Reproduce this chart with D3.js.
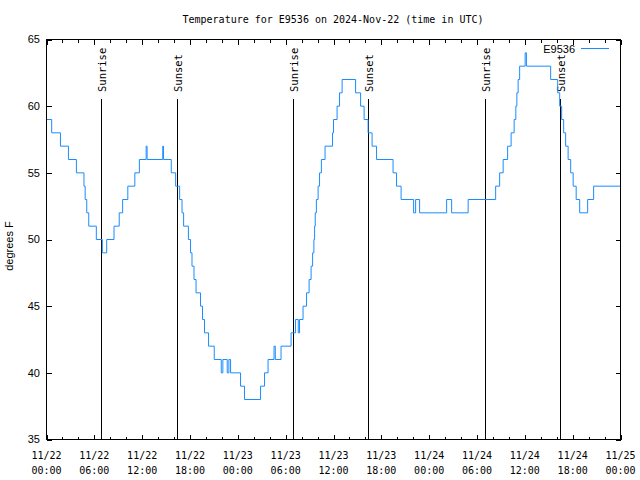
<!DOCTYPE html>
<html>
<head>
<meta charset="utf-8">
<script src="https://cdn.jsdelivr.net/npm/d3@7"></script>
<style>
  html, body { margin: 0; padding: 0; background: #fff; }
  svg { display: block; }
</style>
</head>
<body>
<svg id="chart" width="640" height="480"></svg>
<script>
// ---------- DATA ----------
const titleText = "Temperature for E9536 on 2024-Nov-22 (time in UTC)";
const seriesName = "E9536";
const yLabel = "degrees F";
// hours since 2024-11-22 00:00 UTC at which the reading changed, and the new reading (deg F)
const hours = [
  0.00, 0.65, 1.75, 2.75, 3.75, 4.70, 4.85, 5.05, 5.30, 6.25, 7.00, 7.55, 8.47, 9.12, 9.55,
  10.20, 11.08, 11.65, 12.50, 12.62, 14.58, 14.68, 15.65, 16.20, 16.70, 17.00, 17.20, 17.80,
  18.07, 18.25, 18.50, 18.76, 19.32, 19.57, 19.82, 20.33, 21.04, 21.92, 22.12, 22.67, 22.88,
  23.09, 24.34, 24.84, 26.85, 27.35, 27.79, 28.54, 28.70, 29.42, 30.68, 31.24, 31.58, 31.74,
  32.18, 32.62, 32.94, 33.19, 33.38, 33.54, 33.63, 33.71, 33.85, 34.07, 34.25, 34.48, 34.94,
  35.88, 36.00, 36.45, 36.76, 37.08, 38.77, 39.40, 39.84, 40.34, 40.84, 41.40, 43.47, 43.91,
  44.48, 46.05, 46.30, 46.80, 50.19, 50.82, 52.89, 56.34, 56.84, 57.28, 57.84, 58.28, 58.66,
  58.87, 59.00, 59.16, 59.35, 60.04, 60.20, 63.24, 64.12, 64.37, 64.62, 64.87, 65.12, 65.43,
  65.75, 66.06, 66.44, 66.88, 67.88, 68.63, 72.00
];
const temps = [
  59, 58, 57, 56, 55, 54, 53, 52, 51, 50, 49, 50, 51, 52, 53,
  54, 55, 56, 57, 56, 57, 56, 55, 54, 53, 52, 51, 50,
  49, 48, 47, 46, 45, 44, 43, 42, 41, 40, 41, 40, 41,
  40, 39, 38, 39, 40, 41, 42, 41, 42, 43, 44, 43, 44,
  45, 46, 47, 48, 49, 50, 51, 52, 53, 54, 55, 56, 57,
  58, 59, 60, 61, 62, 61, 60, 59, 58, 57, 56, 55, 54,
  53, 52, 53, 52, 53, 52, 53, 54, 55, 56, 57, 58, 59,
  60, 61, 62, 63, 64, 63, 62, 61, 60, 59, 58, 57, 56,
  55, 54, 53, 52, 53, 54, 54
];
const sunriseHours = [6.81, 30.90, 54.99];
const sunsetHours = [16.31, 40.31, 64.40];
const yTicks = [35, 40, 45, 50, 55, 60, 65];
const xTickLabels = [
  ["11/22", "00:00"], ["11/22", "06:00"], ["11/22", "12:00"], ["11/22", "18:00"],
  ["11/23", "00:00"], ["11/23", "06:00"], ["11/23", "12:00"], ["11/23", "18:00"],
  ["11/24", "00:00"], ["11/24", "06:00"], ["11/24", "12:00"], ["11/24", "18:00"],
  ["11/25", "00:00"]
];

// ---------- SETUP ----------
const start = Date.UTC(2024, 10, 22, 0, 0);
const H = 3600 * 1000;
const toDate = h => new Date(start + h * H);

const L = 46.5, R = 620.5, T = 39.5, B = 439.5;
const x = d3.scaleUtc().domain([toDate(0), toDate(72)]).range([L, R]);
const y = d3.scaleLinear().domain([35, 65]).range([B, T]);

const svg = d3.select("#chart");
const mono = "'DejaVu Sans Mono', monospace";
const sans = "'Liberation Sans', Arial, sans-serif";
const lineColor = "#1a8cff";

// Title
svg.append("text")
  .attr("x", 333).attr("y", 23)
  .attr("text-anchor", "middle")
  .attr("font-family", mono).attr("font-size", 10)
  .text(titleText);

// Axes ticks
const majorVals = d3.range(0, 73, 6).map(toDate);
const minorVals = d3.range(0, 73, 2).filter(h => h % 6 !== 0).map(toDate);

function styleAxis(g) {
  g.select(".domain").remove();
  g.selectAll("line").attr("stroke", "#000").attr("shape-rendering", "crispEdges");
}

svg.append("g").attr("transform", `translate(0,${B})`)
  .call(d3.axisTop(x).tickValues(majorVals).tickSize(5).tickFormat(""))
  .call(styleAxis);
svg.append("g").attr("transform", `translate(0,${B})`)
  .call(d3.axisTop(x).tickValues(minorVals).tickSize(3).tickFormat(""))
  .call(styleAxis);
svg.append("g").attr("transform", `translate(0,${T})`)
  .call(d3.axisBottom(x).tickValues(majorVals).tickSize(5).tickFormat(""))
  .call(styleAxis);
svg.append("g").attr("transform", `translate(0,${T})`)
  .call(d3.axisBottom(x).tickValues(minorVals).tickSize(3).tickFormat(""))
  .call(styleAxis);
svg.append("g").attr("transform", `translate(${L},0)`)
  .call(d3.axisRight(y).tickValues(yTicks).tickSize(5).tickFormat(""))
  .call(styleAxis);
svg.append("g").attr("transform", `translate(${R},0)`)
  .call(d3.axisLeft(y).tickValues(yTicks).tickSize(5).tickFormat(""))
  .call(styleAxis);

// X tick labels (two lines)
const xl = svg.append("g").attr("font-family", mono).attr("font-size", 10).attr("text-anchor", "middle");
xTickLabels.forEach((lab, i) => {
  const t = xl.append("text").attr("x", x(majorVals[i]));
  t.append("tspan").attr("x", x(majorVals[i])).attr("y", 459).text(lab[0]);
  t.append("tspan").attr("x", x(majorVals[i])).attr("y", 474).text(lab[1]);
});

// Y tick labels
svg.append("g").selectAll("text").data(yTicks).join("text")
  .attr("x", 40).attr("y", d => y(d)).attr("dy", "0.35em")
  .attr("text-anchor", "end")
  .attr("font-family", sans).attr("font-size", 11)
  .text(d => d);

// Y axis label
svg.append("text")
  .attr("transform", "translate(13,246) rotate(-90)")
  .attr("text-anchor", "middle")
  .attr("font-family", sans).attr("font-size", 11)
  .text(yLabel);

// Sunrise / sunset lines
const events = sunriseHours.map(h => ({ h, label: "Sunrise" }))
  .concat(sunsetHours.map(h => ({ h, label: "Sunset" })));
events.forEach(e => {
  const xx = Math.round(x(toDate(e.h))) + 0.5;
  svg.append("line")
    .attr("x1", xx).attr("x2", xx).attr("y1", 99).attr("y2", B)
    .attr("stroke", "#000").attr("stroke-width", 1).attr("shape-rendering", "crispEdges");
  svg.append("text")
    .attr("transform", `translate(${xx + 4.5},92) rotate(-90)`)
    .attr("font-family", mono).attr("font-size", 10.5)
    .text(e.label);
});

// Data line
const data = hours.map((h, i) => ({ t: toDate(h), v: temps[i] }));
svg.append("path")
  .datum(data)
  .attr("fill", "none")
  .attr("stroke", lineColor)
  .attr("stroke-width", 1)
  .attr("d", d3.line().x(d => x(d.t)).y(d => y(d.v)).curve(d3.curveStepAfter));

// Frame
svg.append("rect")
  .attr("x", L).attr("y", T).attr("width", R - L).attr("height", B - T)
  .attr("fill", "none").attr("stroke", "#000").attr("stroke-width", 1)
  .attr("shape-rendering", "crispEdges");

// Legend
svg.append("text")
  .attr("x", 575).attr("y", 49).attr("dy", "0.35em")
  .attr("text-anchor", "end")
  .attr("font-family", sans).attr("font-size", 11)
  .text(seriesName);
svg.append("line")
  .attr("x1", 581).attr("x2", 609).attr("y1", 48.5).attr("y2", 48.5)
  .attr("stroke", lineColor).attr("stroke-width", 1);
</script>
</body>
</html>
